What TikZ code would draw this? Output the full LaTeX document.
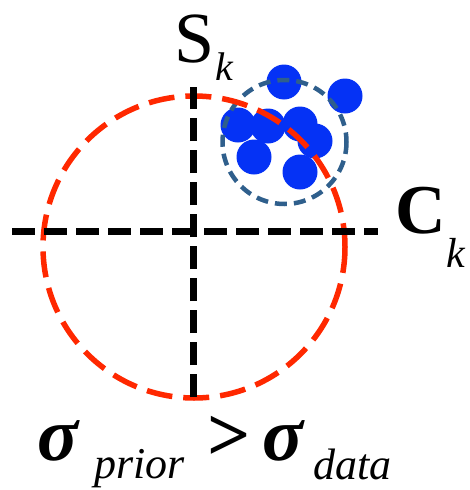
\documentclass[tikz,border=0pt]{standalone}
\usepackage{fontspec}
\setmainfont{Liberation Serif}
\definecolor{dotblue}{RGB}{5,50,245}
\definecolor{ringblue}{RGB}{47,95,140}
\definecolor{priorred}{RGB}{255,40,0}
\begin{document}
\begin{tikzpicture}[x=1pt,y=-1pt,
  axisline/.style={line width=7pt,black,dash pattern=on 23pt off 9pt},
  priorring/.style={line width=5.5pt,priorred,dash pattern=on 26pt off 11pt},
  dataring/.style={line width=4.5pt,ringblue,dash pattern=on 12pt off 7pt},
  datadot/.style={circle,fill=dotblue,inner sep=0pt,minimum size=35pt},
  lbl/.style={inner sep=0pt,anchor=base west},
  bigsym/.style={lbl,font=\fontsize{76}{80}\selectfont\bfseries},
  subtxt/.style={lbl,font=\fontsize{44}{48}\selectfont\itshape}]
\useasboundingbox (0,0) rectangle (469,490);
% data points
\foreach \n/\px/\py in {d1/284/82,d2/345/96,d3/238/125,d4/268/126,d5/300/124,d6/315/141,d7/254/157,d8/300/172}
  \node[datadot] (\n) at (\px,\py) {};
% rings
\coordinate (datacenter) at (284.5,142);
\draw[dataring] (datacenter) circle[radius=62];
\coordinate (priorcenter) at (194,247);
\draw[priorring] (priorcenter) circle[radius=151];
% axes
\coordinate (hstart) at (12,231);
\coordinate (hend) at (378,231);
\coordinate (vtop) at (193.7,87);
\coordinate (vbot) at (193.7,397);
\draw[axisline] (hstart) -- (hend);
\draw[axisline] (vbot) -- (vtop);
% axis labels
\node[lbl,font=\fontsize{72}{76}\selectfont] (Slabel) at (174,62) {S};
\node[subtxt,font=\fontsize{40}{44}\selectfont\itshape] (Ssub) at (Slabel.base east) [xshift=1pt,yshift=-18pt] {k};
\node[lbl,font=\fontsize{70}{74}\selectfont\bfseries] (Clabel) at (395,233) {C};
\node[subtxt,font=\fontsize{42}{46}\selectfont\itshape] (Csub) at (Clabel.base east) [xshift=0pt,yshift=-34pt] {k};
% formula
\node[bigsym,font=\fontsize{76}{80}\selectfont\bfseries\itshape] (sigmaprior) at (37,460) {σ};
\node[subtxt] (priorsub) at (94,478) {prior};
\node[bigsym] (gt) at (207,460) {>};
\node[bigsym,font=\fontsize{76}{80}\selectfont\bfseries\itshape] (sigmadata) at (262,460) {σ};
\node[subtxt] (datasub) at (313,479) {data};
\end{tikzpicture}
\end{document}
